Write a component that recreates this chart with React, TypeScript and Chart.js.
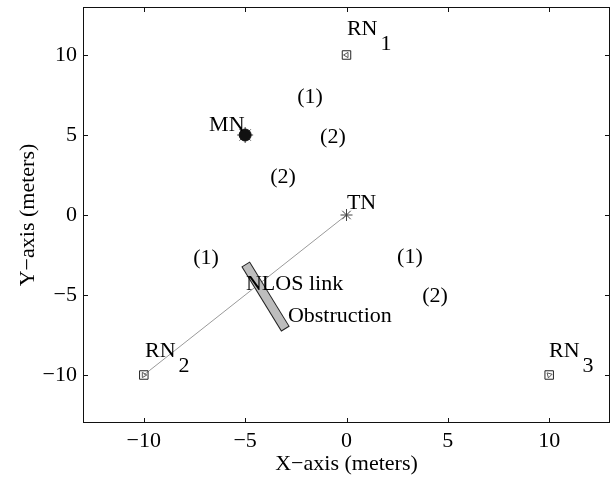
import React, { useEffect, useRef } from 'react';
import { Chart, registerables } from 'chart.js';

Chart.register(...registerables);

const FONT = "'Liberation Serif', 'Times New Roman', Times, serif";

// Axis setup
const axisMin = -13;
const axisMax = 13;
const tickValues = [-10, -5, 0, 5, 10];
const xTitle = 'X\u2212axis (meters)';
const yTitle = 'Y\u2212axis (meters)';

// Node positions (meters)
const rnX = [0, -10, 10];
const rnY = [10, -10, -10];
const tnX = [0];
const tnY = [0];
const mnX = [-5];
const mnY = [5];

// NLOS link from RN2 to TN
const linkX = [-10, 0];
const linkY = [-10, 0];

// Obstruction (centre line of the wall)
const obstructionX = [-4.85, -3.14];
const obstructionY = [-3.33, -6.86];

// Text annotations (data coordinates)
const nameTexts = ['RN', 'RN', 'RN', 'MN', 'TN', 'NLOS link', 'Obstruction'];
const nameSubs = ['1', '2', '3', '', '', '', ''];
const nameX = [0.02, -9.94, 9.99, -6.78, 0.02, -4.96, -2.89];
const nameY = [11.6, -8.5, -8.5, 5.63, 0.72, -4.3, -6.3];

const pathTexts = ['(1)', '(2)', '(2)', '(1)', '(1)', '(2)'];
const pathX = [-1.8, -0.67, -3.13, -6.93, 3.13, 4.37];
const pathY = [7.38, 4.88, 2.38, -2.69, -2.63, -5.06];

const pts = (xs: number[], ys: number[]) => xs.map((x, i) => ({ x, y: ys[i] }));
const fmt = (v: number) => (v < 0 ? '\u2212' + Math.abs(v) : String(v));

const framePlugin = {
  id: 'frame',
  afterDatasetsDraw(chart: any) {
    const { ctx, chartArea: a, scales } = chart;
    const xs = scales.x;
    const ys = scales.y;
    ctx.save();
    // text annotations
    ctx.fillStyle = '#000';
    ctx.font = `22px ${FONT}`;
    ctx.textBaseline = 'middle';
    nameTexts.forEach((t, i) => {
      const px = xs.getPixelForValue(nameX[i]);
      const py = ys.getPixelForValue(nameY[i]);
      ctx.textAlign = 'left';
      ctx.fillText(t, px, py);
      if (nameSubs[i]) {
        const w = ctx.measureText(t).width;
        ctx.fillText(nameSubs[i], px + w + 3, py + 15);
      }
    });
    ctx.textAlign = 'center';
    pathTexts.forEach((t, i) => {
      ctx.fillText(t, xs.getPixelForValue(pathX[i]), ys.getPixelForValue(pathY[i]));
    });
    // box
    ctx.strokeStyle = '#111';
    ctx.lineWidth = 1;
    ctx.strokeRect(a.left + 0.5, a.top + 0.5, a.right - a.left - 1, a.bottom - a.top - 1);
    // inward ticks on all sides
    const L = 5;
    ctx.beginPath();
    tickValues.forEach((v) => {
      const px = Math.round(xs.getPixelForValue(v)) + 0.5;
      ctx.moveTo(px, a.bottom);
      ctx.lineTo(px, a.bottom - L);
      ctx.moveTo(px, a.top);
      ctx.lineTo(px, a.top + L);
      const py = Math.round(ys.getPixelForValue(v)) + 0.5;
      ctx.moveTo(a.left, py);
      ctx.lineTo(a.left + L, py);
      ctx.moveTo(a.right, py);
      ctx.lineTo(a.right - L, py);
    });
    ctx.stroke();
    ctx.restore();
  },
};

export default function App() {
  const ref = useRef<HTMLCanvasElement | null>(null);
  useEffect(() => {
    if (!ref.current) return;
    const chart = new Chart(ref.current, {
      type: 'scatter',
      data: {
        datasets: [
          {
            label: 'RN',
            data: pts(rnX, rnY),
            pointStyle: 'rect',
            pointRadius: 6,
            borderColor: '#222',
            backgroundColor: 'rgba(0,0,0,0)',
            borderWidth: 1,
            order: 0,
          },
          {
            label: 'RN arrow',
            data: pts(rnX, rnY),
            pointStyle: 'triangle',
            pointRadius: 3,
            rotation: [-90, 90, -45] as any,
            borderColor: '#555',
            backgroundColor: 'rgba(0,0,0,0)',
            borderWidth: 1,
            order: 0,
          },
          {
            label: 'MN',
            data: pts(mnX, mnY),
            pointStyle: 'circle',
            pointRadius: 6,
            borderColor: '#111',
            backgroundColor: '#111',
            borderWidth: 1,
            order: 0,
          },
          {
            label: 'MN star',
            data: pts(mnX, mnY),
            pointStyle: 'star',
            pointRadius: 8,
            borderColor: '#444',
            backgroundColor: 'rgba(0,0,0,0)',
            borderWidth: 1,
            order: 0,
          },
          {
            label: 'TN',
            data: pts(tnX, tnY),
            pointStyle: 'star',
            pointRadius: 6,
            borderColor: '#444',
            backgroundColor: 'rgba(0,0,0,0)',
            borderWidth: 1,
            order: 0,
          },
          {
            label: 'Obstruction fill',
            data: pts(obstructionX, obstructionY),
            showLine: true,
            borderColor: '#bdbdbd',
            borderWidth: 8,
            borderCapStyle: 'square',
            pointRadius: 0,
            order: 1,
          },
          {
            label: 'Obstruction edge',
            data: pts(obstructionX, obstructionY),
            showLine: true,
            borderColor: '#222',
            borderWidth: 10,
            borderCapStyle: 'square',
            pointRadius: 0,
            order: 2,
          },
          {
            label: 'NLOS link',
            data: pts(linkX, linkY),
            showLine: true,
            borderColor: '#9a9a9a',
            borderWidth: 1,
            pointRadius: 0,
            order: 3,
          },
        ],
      },
      options: {
        animation: false,
        responsive: false,
        layout: { autoPadding: false, padding: { top: 7, right: 1, left: 0, bottom: 0 } },
        plugins: { legend: { display: false }, tooltip: { enabled: false } },
        scales: {
          x: {
            type: 'linear',
            min: axisMin,
            max: axisMax,
            afterBuildTicks: (s: any) => {
              s.ticks = tickValues.map((v) => ({ value: v }));
            },
            afterFit: (s: any) => {
              s.height = 54;
              s.paddingLeft = 0;
              s.paddingRight = 0;
            },
            grid: { display: false, drawTicks: false },
            border: { display: false },
            ticks: {
              font: { family: FONT, size: 22 },
              color: '#000',
              padding: 5,
              maxRotation: 0,
              callback: (v: any) => fmt(Number(v)),
            },
            title: {
              display: true,
              text: xTitle,
              font: { family: FONT, size: 22 },
              color: '#000',
              padding: { top: 0, bottom: 0 },
            },
          },
          y: {
            type: 'linear',
            min: axisMin,
            max: axisMax,
            afterBuildTicks: (s: any) => {
              s.ticks = tickValues.map((v) => ({ value: v }));
            },
            afterFit: (s: any) => {
              s.width = 83;
              s.paddingTop = 0;
              s.paddingBottom = 0;
            },
            grid: { display: false, drawTicks: false },
            border: { display: false },
            ticks: {
              font: { family: FONT, size: 22 },
              color: '#000',
              padding: 6,
              callback: (v: any) => fmt(Number(v)),
            },
            title: {
              display: true,
              text: yTitle,
              font: { family: FONT, size: 22 },
              color: '#000',
              padding: { top: 15, bottom: 0 },
            },
          },
        },
      },
      plugins: [framePlugin],
    } as any);
    return () => chart.destroy();
  }, []);
  return (
    <div style={{ position: 'fixed', left: 0, top: 0, width: 611, height: 477, background: '#fff' }}>
      <canvas ref={ref} width={611} height={477} />
    </div>
  );
}
